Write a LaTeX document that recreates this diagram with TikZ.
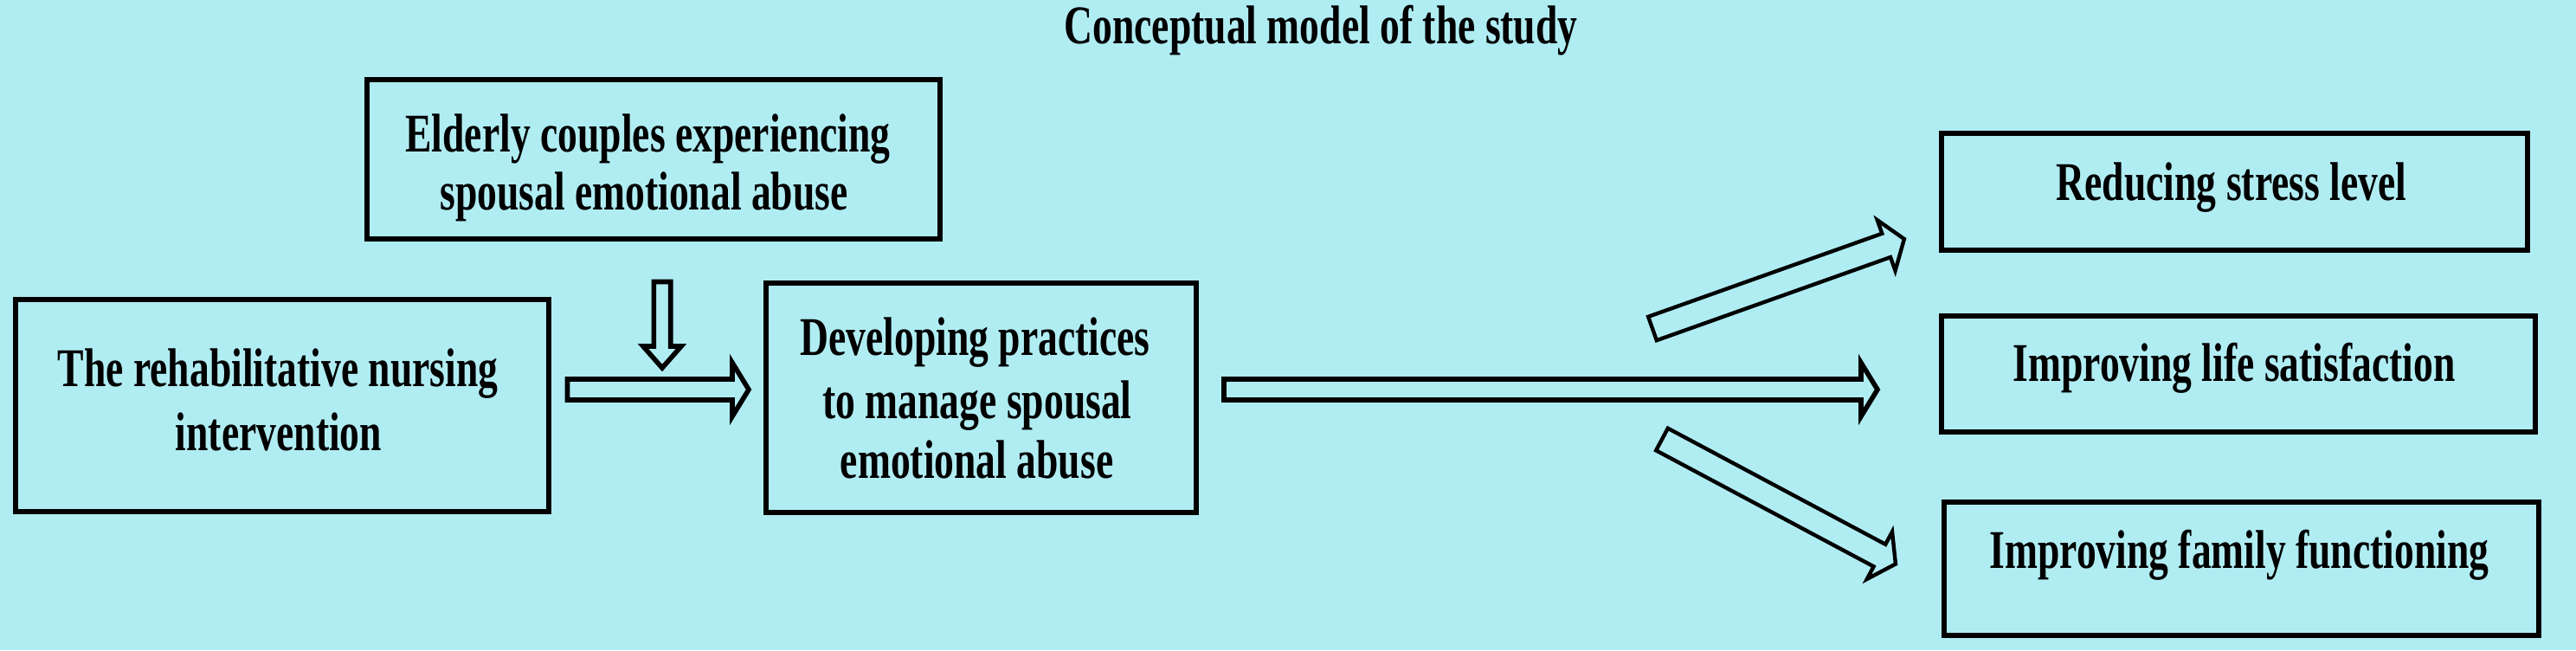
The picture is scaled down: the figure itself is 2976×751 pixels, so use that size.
\documentclass[tikz,border=0pt]{standalone}
\usepackage{fontspec}
\setmainfont{Liberation Serif}[FakeStretch=0.724]
\usetikzlibrary{calc}
\definecolor{bgcyan}{RGB}{176,237,243}
\newcommand\blockarrow[6][]{%
  \path let \p1=($(#3)-(#2)$) in \pgfextra{%
    \pgfmathparse{atan2(\y1,\x1)}\xdef\baang{\pgfmathresult}%
    \pgfmathparse{4*veclen(\x1,\y1)}\xdef\balen{\pgfmathresult}};
  \begin{scope}[shift={(#2)},rotate=\baang]
    \draw[blk,#1] (0,-#4) -- ({\balen-#6},-#4) -- ({\balen-#6},-#5) -- (\balen,0)
      -- ({\balen-#6},#5) -- ({\balen-#6},#4) -- (0,#4) -- cycle;
  \end{scope}}
\begin{document}
\begin{tikzpicture}[x=0.25pt,y=-0.25pt,
  box/.style 2 args={draw=black, line width=1.5pt, rectangle, inner sep=0pt, outer sep=0pt,
    minimum width=#1*0.25pt, minimum height=#2*0.25pt},
  txt/.style={inner sep=0pt, anchor=base, text=black,
    font=\fontsize{15.75}{18}\selectfont\bfseries},
  blk/.style={draw=black, line width=1.4pt, line join=miter},
  diag/.style={line width=1.1pt}]
\fill[bgcyan] (0,0) rectangle (2976,751);
\useasboundingbox (0,0) rectangle (2976,751);

% boxes
\node[box={662}{184}] (elderly) at (755,184) {};
\node[box={616}{245}] (rehab) at (326,468.5) {};
\node[box={497}{265}] (dev) at (1133.5,459.5) {};
\node[box={677}{135}] (stress) at (2581.5,221.5) {};
\node[box={686}{134}] (life) at (2586,432) {};
\node[box={687}{154}] (family) at (2589.5,657) {};

% texts
\node[txt] (title) at (1526,50) {Conceptual model of the study};
\node[txt] (elderlyA) at (748.5,175) {Elderly couples experiencing};
\node[txt] (elderlyB) at (744,242) {spousal emotional abuse};
\node[txt] (rehabA) at (321,446) {The rehabilitative nursing};
\node[txt] (rehabB) at (322,520) {intervention};
\node[txt] (devA) at (1126.5,410) {Developing practices};
\node[txt] (devB) at (1129,483) {to manage spousal};
\node[txt] (devC) at (1128.5,552) {emotional abuse};
\node[txt] (stressT) at (2578,231) {Reducing stress level};
\node[txt] (lifeT) at (2581,440) {Improving life satisfaction};
\node[txt] (familyT) at (2587,656) {Improving family functioning};

% arrow end points
\coordinate (a1s) at ($(rehab.east)+(21.5,-18.5)$);
\coordinate (a1e) at ($(dev.west)+(-20,-9.5)$);
\coordinate (a2s) at ($(elderly.south)+(10,49.5)$);
\coordinate (a2e) at ($(elderly.south)+(10,149)$);
\coordinate (a3s) at ($(dev.east)+(32,-9.5)$);
\coordinate (a3e) at ($(life.west)+(-74,18)$);
\coordinate (a4s) at ($(dev.east)+(527,-80)$);
\coordinate (a4e) at ($(stress.west)+(-43,54.5)$);
\coordinate (a5s) at ($(dev.east)+(538,48)$);
\coordinate (a5e) at ($(family.west)+(-56,-5.5)$);

% block arrows
\blockarrow{a1s}{a1e}{12}{31}{19}
\blockarrow{a2s}{a2e}{9.7}{22}{25}
\blockarrow{a3s}{a3e}{12}{31}{19}
\blockarrow[diag]{a4s}{a4e}{14.5}{31}{22}
\blockarrow[diag]{a5s}{a5e}{14.5}{31}{21}
\end{tikzpicture}
\end{document}
